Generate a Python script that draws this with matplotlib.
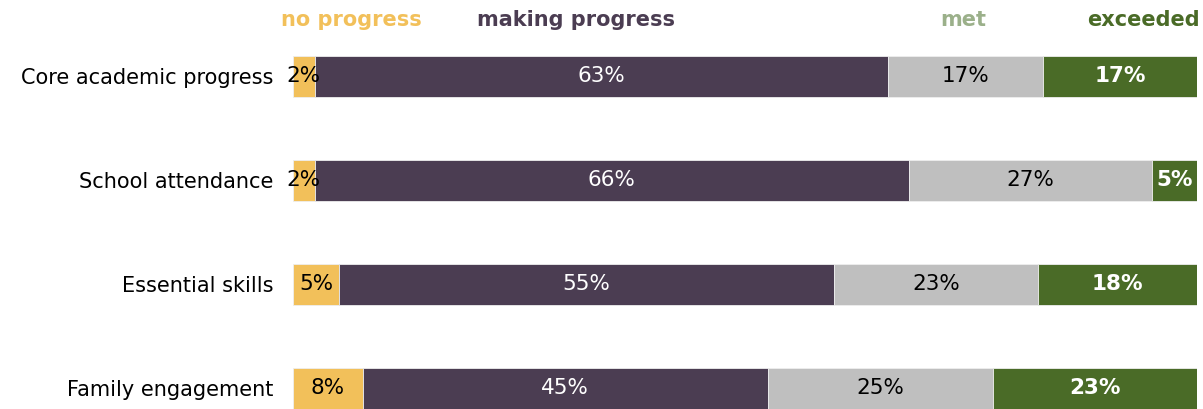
import matplotlib
matplotlib.use("Agg")
import matplotlib.pyplot as plt

categories = ["Core academic progress", "School attendance", "Essential skills", "Family engagement"]
series_names = ["no progress", "making progress", "met", "exceeded"]
no_progress = [2.4, 2.4, 5.1, 7.7]
making_progress = [63.4, 65.7, 54.7, 44.8]
met = [17.1, 26.9, 22.6, 24.9]
exceeded = [17.1, 5.0, 17.6, 22.6]

bar_colors = ["#F2C05A", "#4B3D52", "#BFBFBF", "#4A6B27"]
header_colors = ["#F2C05A", "#4B3D52", "#9BB08A", "#4A6B27"]
label_colors = ["black", "white", "black", "white"]
label_weights = ["normal", "normal", "normal", "bold"]

plt.rcParams['font.family'] = ['DejaVu Sans']

W, H = 1203, 409
fig = plt.figure(figsize=(W / 100, H / 100), dpi=100)
ax = fig.add_axes([293 / W, 0, (1197.3 - 293) / W, 1])

series = [no_progress, making_progress, met, exceeded]
ypos = list(range(len(categories)))
left = [0.0] * len(categories)
for si, vals in enumerate(series):
    ax.barh(ypos, vals, left=left, height=0.395, color=bar_colors[si],
            edgecolor="#EEEEEE", linewidth=0.6)
    for i, v in enumerate(vals):
        ax.text(left[i] + v / 2, ypos[i], f"{v:.0f}%", ha="center", va="center",
                fontsize=15.5, color=label_colors[si], fontweight=label_weights[si])
    left = [l + v for l, v in zip(left, vals)]

ax.set_xlim(0, 100)
ax.set_ylim(3 + 20.5 / 104, -76.5 / 104)
ax.set_yticks(ypos)
ax.set_yticklabels(categories, fontsize=15)
ax.tick_params(axis="y", length=0, pad=14)
ax.set_xticks([])
for s in ax.spines.values():
    s.set_visible(False)

header_x = [351, 576, 963, 1143]
for name, c, hx in zip(series_names, header_colors, header_x):
    fig.text(hx / W, 1 - 20 / H, name, ha="center", va="center", fontsize=15,
             fontweight="bold", color=c)

fig.savefig("out.png", dpi=100)
